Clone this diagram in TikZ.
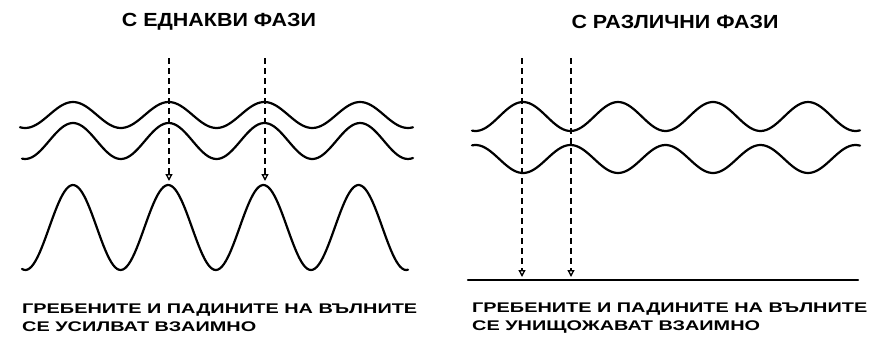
\documentclass[tikz,border=0pt]{standalone}
\usepackage{fontspec}
\setmainfont{Liberation Sans}
\newfontfamily\headfont[FakeStretch=1.13]{Liberation Sans}
\newfontfamily\capsfont[FakeStretch=1.42]{Liberation Sans}
\usetikzlibrary{arrows.meta,positioning}
\tikzset{
  wave/.style={line width=2.2pt, line join=round, line cap=round},
  guide/.style={dashed, dash pattern=on 6pt off 4pt, line width=1.3pt,
                -{Triangle[open, length=7pt, width=7pt, line width=1.3pt]}},
  headline/.style={font=\headfont\fontsize{19}{22}\selectfont\bfseries, inner sep=0pt},
  caption/.style={font=\capsfont\fontsize{14}{18}\selectfont\bfseries,
                  align=left, anchor=north west, inner sep=0pt}
}

\begin{document}
\begin{tikzpicture}[x=1pt,y=-1pt]
  \useasboundingbox (0,0) rectangle (889,348);

  % same phase
  \node[headline] (titleL) at (219,22) {С ЕДНАКВИ ФАЗИ};
  \draw[wave] plot[domain=20:413, samples=150] (\x, {115-13*cos((\x-73)/95.7*360)});
  \draw[wave] plot[domain=22:413, samples=150] (\x, {141-18*cos((\x-73)/95.7*360)});
  \draw[wave] plot[domain=22:408, samples=200] (\x, {227.5-42.5*cos((\x-73)/95.2*360)});
  \coordinate (topL1) at (169,58);
  \coordinate (crestL1) at (169,181);
  \coordinate (topL2) at (265,58);
  \coordinate (crestL2) at (265,181);
  \draw[guide] (topL1) -- (crestL1);
  \draw[guide] (topL2) -- (crestL2);
  \node[caption] (textL) at (22,304)
    {ГРЕБЕНИТЕ И ПАДИНИТЕ НА ВЪЛНИТЕ\\СЕ УСИЛВАТ ВЗАИМНО};

  % opposite phase
  \node[headline] (titleR) at (675,22) {С РАЗЛИЧНИ ФАЗИ};
  \draw[wave] plot[domain=472:860, samples=150] (\x, {116.5-14.5*cos((\x-523)/95*360)});
  \draw[wave] plot[domain=472:860, samples=150] (\x, {159+14*cos((\x-523)/95*360)});
  \coordinate (flatA) at (468,280);
  \coordinate (flatB) at (858,280);
  \draw[wave] (flatA) -- (flatB);
  \coordinate (topR1) at (522,58);
  \coordinate (baseR1) at (522,277);
  \coordinate (topR2) at (571,58);
  \coordinate (baseR2) at (571,277);
  \draw[guide] (topR1) -- (baseR1);
  \draw[guide] (topR2) -- (baseR2);
  \node[caption] (textR) at (472,303)
    {ГРЕБЕНИТЕ И ПАДИНИТЕ НА ВЪЛНИТЕ\\СЕ УНИЩОЖАВАТ ВЗАИМНО};
\end{tikzpicture}
\end{document}
